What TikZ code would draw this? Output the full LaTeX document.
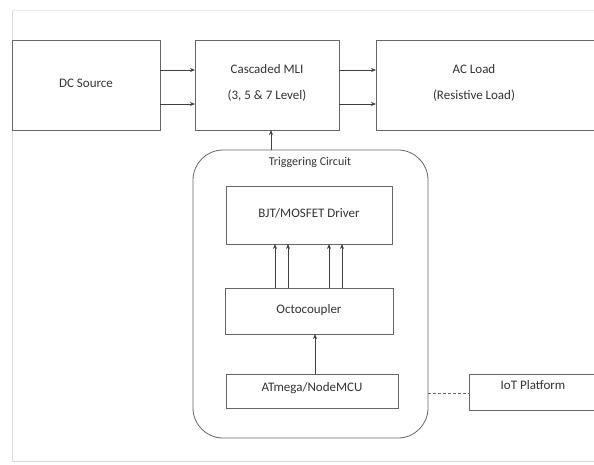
\documentclass[tikz,border=0pt]{standalone}
\usepackage{fontspec}
\setmainfont{Carlito}
\usetikzlibrary{arrows.meta}
\begin{document}
\begin{tikzpicture}[x=1pt,y=-1pt,
  box/.style={draw=black!60, line width=0.8pt, fill=white},
  lbl/.style={font=\fontsize{13}{15}\selectfont, text=black!80, align=center},
  conn/.style={draw=black!75, line width=1pt, -{Stealth[length=5pt,width=4pt]}},
  dconn/.style={draw=black!60, line width=0.8pt, dashed, dash pattern=on 3pt off 2pt}]
\useasboundingbox (0,0) rectangle (594,464);
\fill[white] (0,0) rectangle (594,464);
\draw[black!15, line width=0.8pt] (12,10) -- (12,461) -- (594,461);
\draw[black!8, line width=0.6pt] (12,10) -- (594,10);
% top row
\draw[box] (12,40) rectangle (160,130);
\node[lbl] (dc) at (86,83) {DC Source};
\coordinate (dcR1) at (160,70); \coordinate (dcR2) at (160,104);
\draw[box] (195,40) rectangle (339,130);
\node[lbl] (mli) at (267,83) {Cascaded MLI\\[11pt](3, 5 \& 7 Level)};
\coordinate (mliL1) at (195,70); \coordinate (mliL2) at (195,104);
\coordinate (mliR1) at (339,70); \coordinate (mliR2) at (339,104);
\coordinate (mliB) at (271,130);
\draw[box] (376,40) rectangle (600,130);
\node[lbl] (ac) at (474,83) {AC Load\\[11pt](Resistive Load)};
\coordinate (acL1) at (376,70); \coordinate (acL2) at (376,104);
\draw[conn] (dcR1) -- (mliL1);
\draw[conn] (dcR2) -- (mliL2);
\draw[conn] (mliR1) -- (acL1);
\draw[conn] (mliR2) -- (acL2);
% triggering circuit
\draw[box, rounded corners=30pt] (193,150) rectangle (428,438);
\coordinate (trigT) at (271,150);
\coordinate (trigR) at (428,393);
\node[lbl, font=\fontsize{12}{14}\selectfont] (trig) at (310,162) {Triggering Circuit};
\draw[conn] (trigT) -- (mliB);
% driver
\draw[box] (226,186) rectangle (392,244);
\node[lbl] (drv) at (309,213) {BJT/MOSFET Driver};
% octocoupler
\draw[box] (225,288) rectangle (393,334);
\node[lbl] (oct) at (309,310) {Octocoupler};
\foreach \xx in {275,288,329,342}{
  \draw[conn] (\xx,288) -- (\xx,244);
}
% atmega
\draw[box] (226,374) rectangle (398,408);
\node[lbl] (atm) at (312,388) {ATmega/NodeMCU};
\draw[conn] (315,374) -- (315,334);
% IoT
\draw[box] (469,374) rectangle (600,410);
\node[lbl] (iot) at (533,385) {IoT Platform};
\coordinate (iotL) at (469,393);
\draw[dconn] (trigR) -- (iotL);
\end{tikzpicture}
\end{document}
